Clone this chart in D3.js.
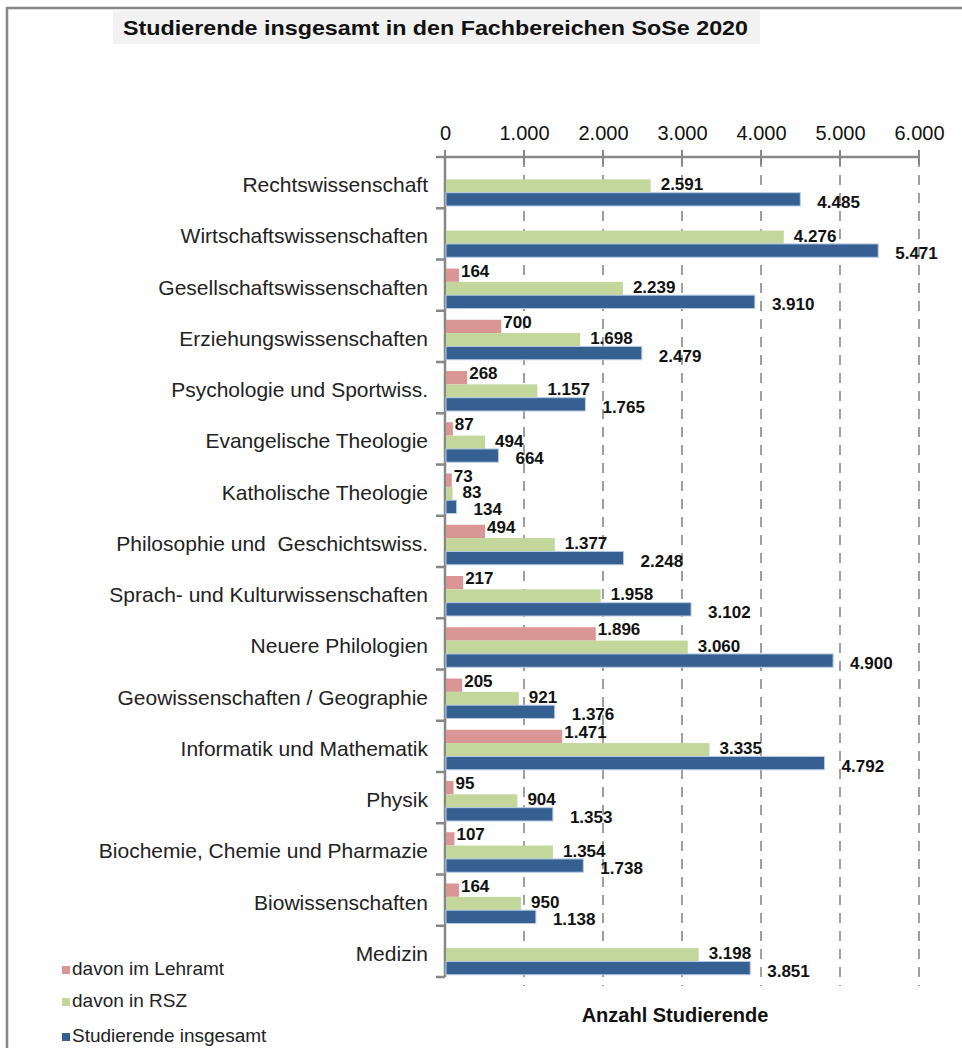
<!DOCTYPE html>
<html>
<head>
<meta charset="utf-8">
<script src="https://cdn.jsdelivr.net/npm/d3@7"></script>
<style>
  body { margin: 0; background: #fff; }
  svg { font-family: "Liberation Sans", Arial, sans-serif; }
  text { white-space: pre; }
</style>
</head>
<body>
<div id="chart"></div>
<script>
// data
var categories = [
  "Rechtswissenschaft",
  "Wirtschaftswissenschaften",
  "Gesellschaftswissenschaften",
  "Erziehungswissenschaften",
  "Psychologie und Sportwiss.",
  "Evangelische Theologie",
  "Katholische Theologie",
  "Philosophie und  Geschichtswiss.",
  "Sprach- und Kulturwissenschaften",
  "Neuere Philologien",
  "Geowissenschaften / Geographie",
  "Informatik und Mathematik",
  "Physik",
  "Biochemie, Chemie und Pharmazie",
  "Biowissenschaften",
  "Medizin"
];
var lehramt = [null, null, 164, 700, 268, 87, 73, 494, 217, 1896, 205, 1471, 95, 107, 164, null];
var rsz     = [2591, 4276, 2239, 1698, 1157, 494, 83, 1377, 1958, 3060, 921, 3335, 904, 1354, 950, 3198];
var gesamt  = [4485, 5471, 3910, 2479, 1765, 664, 134, 2248, 3102, 4900, 1376, 4792, 1353, 1738, 1138, 3851];
var seriesNames = ["davon im Lehramt", "davon in RSZ", "Studierende insgesamt"];
var seriesColors = ["#d99694", "#c3d69b", "#376092"];
var xTicks = [0, 1000, 2000, 3000, 4000, 5000, 6000];

var W = 962, H = 1048;
var svg = d3.select("#chart").append("svg")
  .attr("width", W).attr("height", H);

// outer frame (top + left edge)
svg.append("path")
  .attr("d", "M7,1048 L7,8 L962,8")
  .attr("fill", "none").attr("stroke", "#878787").attr("stroke-width", 2.5);

// title
svg.append("rect").attr("x", 113).attr("y", 11).attr("width", 647).attr("height", 33)
  .attr("fill", "#f2f2f2");
svg.append("text").attr("x", 123).attr("y", 35)
  .attr("font-size", 20.5).attr("font-weight", "bold").attr("fill", "#111")
  .attr("textLength", 625).attr("lengthAdjust", "spacingAndGlyphs")
  .text("Studierende insgesamt in den Fachbereichen SoSe 2020");

var fmt = function(v) { return d3.format(",")(v).replace(/,/g, "."); };

var x = d3.scaleLinear().domain([0, 6000]).range([445, 919]);
var y = d3.scaleBand().domain(categories).range([157, 977]);
var yInner = d3.scaleBand().domain([0, 1, 2]).range([9, 49]);

// dashed gridlines
svg.append("g").selectAll("line").data(xTicks.slice(1)).join("line")
  .attr("x1", d => x(d)).attr("x2", d => x(d))
  .attr("y1", 157).attr("y2", 986)
  .attr("stroke", "#a0a0a0").attr("stroke-width", 2)
  .attr("stroke-dasharray", "10,8");

// top axis
var xAxis = svg.append("g").attr("transform", "translate(0,157)")
  .call(d3.axisTop(x).tickValues(xTicks).tickSize(0).tickPadding(17).tickFormat(fmt));
xAxis.select(".domain").remove();
xAxis.selectAll("text").attr("font-size", 20).attr("fill", "#111")
  .attr("font-family", "Liberation Sans, Arial, sans-serif");
svg.append("line").attr("x1", 436).attr("x2", 919).attr("y1", 157).attr("y2", 157)
  .attr("stroke", "#878787").attr("stroke-width", 2.5);
svg.append("g").selectAll("line").data(xTicks).join("line")
  .attr("x1", d => x(d)).attr("x2", d => x(d))
  .attr("y1", 150).attr("y2", d => d === 0 ? 170 : 165)
  .attr("stroke", "#878787").attr("stroke-width", 2);

// left axis
svg.append("line").attr("x1", 445).attr("x2", 445).attr("y1", 157).attr("y2", 977)
  .attr("stroke", "#878787").attr("stroke-width", 2.5);
var bounds = categories.map(c => y(c) + y.bandwidth());
svg.append("g").selectAll("line").data(bounds).join("line")
  .attr("x1", 436).attr("x2", 445).attr("y1", d => d).attr("y2", d => d)
  .attr("stroke", "#878787").attr("stroke-width", 2.5);

// category labels
svg.append("g").selectAll("text").data(categories).join("text")
  .attr("x", 428).attr("y", d => y(d) + y.bandwidth() / 2 + 4)
  .attr("text-anchor", "end").attr("dominant-baseline", "middle")
  .attr("font-size", 21).attr("fill", "#222")
  .text(d => d);

// bars
var rows = categories.map((c, i) => ({ cat: c, vals: [lehramt[i], rsz[i], gesamt[i]] }));
var labelDx = [3, 11, 18];
var labelDy = [-3, 0, 4];
var g = svg.append("g").selectAll("g").data(rows).join("g")
  .attr("transform", d => "translate(0," + y(d.cat) + ")");
var cells = g.selectAll("g").data(d => d.vals.map((v, k) => ({ v: v, k: k })).filter(e => e.v !== null))
  .join("g");
cells.append("rect")
  .attr("x", x(0) + 1).attr("y", d => yInner(d.k))
  .attr("width", d => x(d.v) - x(0))
  .attr("height", yInner.bandwidth())
  .attr("fill", d => seriesColors[d.k])
  .attr("stroke", d => d.k === 2 ? "#b9cde5" : "none").attr("stroke-width", 1);
cells.append("text")
  .attr("x", d => x(d.v) + labelDx[d.k])
  .attr("y", d => yInner(d.k) + yInner.bandwidth() / 2 + labelDy[d.k])
  .attr("dominant-baseline", "middle")
  .attr("font-size", 17).attr("font-weight", "bold").attr("fill", "#111")
  .text(d => fmt(d.v));

// axis title
svg.append("text").attr("x", 675).attr("y", 1022).attr("text-anchor", "middle")
  .attr("font-size", 20).attr("font-weight", "bold").attr("fill", "#111")
  .text("Anzahl Studierende");

// legend
var legY = [970, 1002, 1037];
var leg = svg.append("g").selectAll("g").data(seriesNames).join("g")
  .attr("transform", (d, i) => "translate(62," + legY[i] + ")");
leg.append("rect").attr("x", 0).attr("y", -4).attr("width", 8).attr("height", 8)
  .attr("fill", (d, i) => seriesColors[i]);
leg.append("text").attr("x", 10).attr("y", 0).attr("dominant-baseline", "middle")
  .attr("font-size", 19).attr("fill", "#222").text(d => d);
</script>
</body>
</html>
